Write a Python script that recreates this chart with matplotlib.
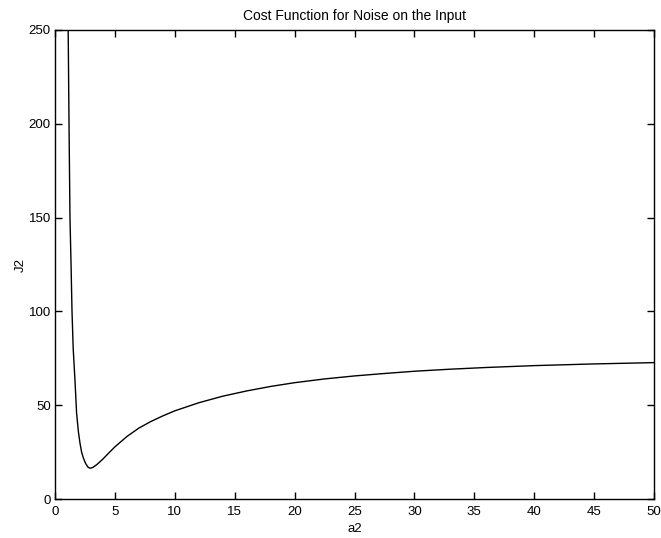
import matplotlib
matplotlib.use("Agg")
import matplotlib.pyplot as plt

# values
a2 = [1.10, 1.17, 1.25, 1.34, 1.42, 1.52, 1.67, 1.80, 1.95, 2.08, 2.22, 2.36,
      2.55, 2.75, 2.92, 3.15, 3.5, 4.0, 4.5, 5.0, 6.0, 7.0, 8.0, 9.0, 10.0,
      12.0, 14.0, 16.0, 18.0, 20.0, 22.5, 25.0, 27.5, 30.0, 33.0, 36.0, 40.0,
      45.0, 50.0]
J2 = [250, 200, 150, 125, 100, 80, 63, 46, 36, 30, 25, 22,
      19, 17, 16.4, 16.8, 18.4, 21.3, 24.6, 27.8, 33.3, 37.8, 41.3, 44.3, 47,
      51.3, 54.8, 57.6, 60, 62, 64, 65.6, 66.9, 68.1, 69.2, 70.1, 71.1,
      72, 72.7]

xticks = list(range(0, 51, 5))
yticks = [0, 50, 100, 150, 200, 250]

plt.rcParams['font.family'] = ['Liberation Sans', 'DejaVu Sans']
plt.rcParams['font.size'] = 9.5

fig = plt.figure(figsize=(6.61, 5.38), dpi=100)
ax = fig.add_axes([55/661, 39/538, 599/661, 469/538])

ax.plot(a2, J2, color='black', linewidth=1.0)

ax.set_xlim(0, 50)
ax.set_ylim(0, 250)
ax.set_xticks(xticks)
ax.set_yticks(yticks)
ax.tick_params(direction='in', top=True, right=True, length=5, width=1)
ax.tick_params(axis='x', pad=5)
ax.tick_params(axis='y', pad=3)
for s in ax.spines.values():
    s.set_linewidth(1)

ax.set_title("Cost Function for Noise on the Input", fontsize=10, pad=7)
ax.set_xlabel("a2", labelpad=4)
ax.set_ylabel("J2", labelpad=1)

fig.savefig("out.png", dpi=100)
